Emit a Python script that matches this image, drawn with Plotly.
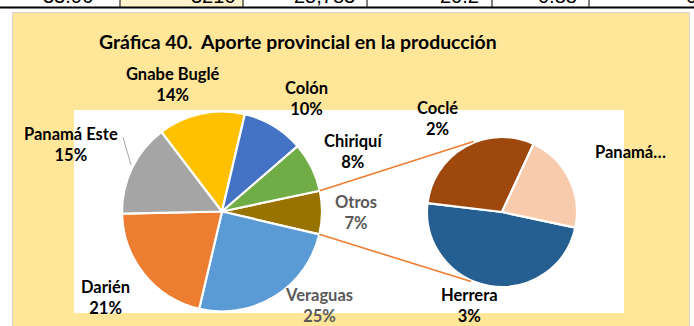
import math
import plotly.graph_objects as go

# ---- data -----------------------------------------------------------------
provinces = ["Veraguas", "Darién", "Panamá Este", "Gnabe Buglé", "Colón", "Chiriquí"]
province_share = [25, 21, 15, 14, 10, 8]

other_names = ["Herrera", "Coclé", "Panamá Oeste"]
other_share = [3.4, 2.1, 1.5]

other_label = "Otros"

table_cells = ["33.06", "3216", "25,783", "20.2", "0.88", "0"]

# ---- figure geometry (pixels) ---------------------------------------------
W, H = 694, 326


def px(x):
    return x / W


def py(y):
    return 1 - y / H


main_cx, main_cy, main_r = 222, 211.5, 100
sub_cx, sub_cy, sub_r = 502, 212, 75
main_rotation = 78
sub_rotation = 102

main_colors = ["#997300", "#5B9BD5", "#ED7D31", "#A5A5A5", "#FFC000", "#4472C4", "#70AD47"]
sub_colors = ["#255E91", "#9E480E", "#F8CBAD"]

otros_value = sum(other_share)
main_labels = [other_label] + provinces
main_values = [otros_value] + province_share
total = sum(main_values)

fig = go.Figure()

fig.add_trace(go.Pie(
    labels=main_labels,
    values=main_values,
    sort=False,
    direction="clockwise",
    rotation=main_rotation,
    textinfo="none",
    marker=dict(colors=main_colors, line=dict(color="white", width=2.2)),
    domain=dict(x=[px(main_cx - main_r), px(main_cx + main_r)],
                y=[py(main_cy + main_r), py(main_cy - main_r)]),
    showlegend=False,
))

fig.add_trace(go.Pie(
    labels=other_names,
    values=other_share,
    sort=False,
    direction="clockwise",
    rotation=sub_rotation,
    textinfo="none",
    marker=dict(colors=sub_colors, line=dict(color="white", width=2.2)),
    domain=dict(x=[px(sub_cx - sub_r), px(sub_cx + sub_r)],
                y=[py(sub_cy + sub_r), py(sub_cy - sub_r)]),
    showlegend=False,
))

shapes = []

# worksheet row above the chart
shapes.append(dict(type="rect", xref="paper", yref="paper", layer="below",
                   x0=px(120), x1=px(243), y0=py(7), y1=py(-2),
                   fillcolor="#FFF2CC", line=dict(width=0)))
for xv in [120, 243, 367, 492, 589]:
    shapes.append(dict(type="line", xref="paper", yref="paper",
                       x0=px(xv), x1=px(xv), y0=py(7.5), y1=py(-2),
                       line=dict(color="black", width=1)))
shapes.append(dict(type="line", xref="paper", yref="paper",
                   x0=0, x1=1, y0=py(7.5), y1=py(7.5),
                   line=dict(color="black", width=1.8)))

# chart area and plot area
shapes.append(dict(type="rect", xref="paper", yref="paper", layer="below",
                   x0=px(12.5), x1=px(689.5), y0=py(H + 5), y1=py(12.5),
                   fillcolor="#FFE699", line=dict(color="#D4D4D4", width=1)))
shapes.append(dict(type="rect", xref="paper", yref="paper", layer="below",
                   x0=px(74), x1=px(624), y0=py(313), y1=py(110),
                   fillcolor="white", line=dict(width=0)))


# connector lines between the "Otros" slice and the breakdown pie
def on_circle(cx, cy, r, deg):
    a = math.radians(deg)
    return cx + r * math.sin(a), cy - r * math.cos(a)


otros_start = main_rotation
otros_end = main_rotation + 360 * otros_value / total
for a_main, a_sub in [(otros_start, 338), (otros_end, 204)]:
    x0, y0 = on_circle(main_cx, main_cy, main_r, a_main)
    x1, y1 = on_circle(sub_cx, sub_cy, sub_r + 1, a_sub)
    shapes.append(dict(type="line", xref="paper", yref="paper",
                       x0=px(x0), y0=py(y0), x1=px(x1), y1=py(y1),
                       line=dict(color="#ED7D31", width=1.6)))

# leader line for Panamá Este
shapes.append(dict(type="line", xref="paper", yref="paper",
                   x0=px(123), y0=py(137), x1=px(131), y1=py(165),
                   line=dict(color="#A6A6A6", width=1)))

annotations = []

# title
annotations.append(dict(
    text="<b>Gráfica 40.  Aporte provincial en la producción</b>",
    xref="paper", yref="paper", x=px(298), y=py(41.5),
    xanchor="center", yanchor="middle", showarrow=False,
    font=dict(family="Lato", size=19.4, color="black")))

# data labels
label_pos = {
    "Gnabe Buglé": (173, 84),
    "Colón": (306, 98),
    "Chiriquí": (354, 151),
    "Otros": (356, 212),
    "Veraguas": (319, 305.5),
    "Darién": (106, 297.5),
    "Panamá Este": (71, 144),
    "Coclé": (437, 118),
    "Herrera": (469.5, 305.5),
    "Panamá Oeste": (630, 152),
}
gray_labels = {"Otros", "Veraguas"}
short_names = {"Panamá Oeste": "Panamá…"}

for name, val in list(zip(main_labels, main_values)) + list(zip(other_names, other_share)):
    x, y = label_pos[name]
    if name in short_names:
        txt = f"<b>{short_names[name]}</b>"
    else:
        pct = round(100 * val / total)
        txt = f"<b>{name}<br>{pct}%</b>"
    annotations.append(dict(
        text=txt, xref="paper", yref="paper", x=px(x), y=py(y),
        xanchor="center", yanchor="middle", showarrow=False, align="center",
        font=dict(family="Lato", size=16.5,
                  color="#595959" if name in gray_labels else "black")))

# worksheet row values (mostly above the visible edge)
cell_right = [95, 238, 357, 481, 579, 694]
for txt, xr in zip(table_cells, cell_right):
    anchor = "right" if xr < 690 else "left"
    xx = xr if xr < 690 else 684
    annotations.append(dict(
        text=txt, xref="paper", yref="paper", x=px(xx), y=py(-4),
        xanchor=anchor, yanchor="middle", showarrow=False,
        font=dict(family="Liberation Sans", size=20, color="black")))

fig.update_layout(
    width=W, height=H,
    margin=dict(l=0, r=0, t=0, b=0),
    paper_bgcolor="white",
    plot_bgcolor="white",
    shapes=shapes,
    annotations=annotations,
)

fig.write_html("out.html")
